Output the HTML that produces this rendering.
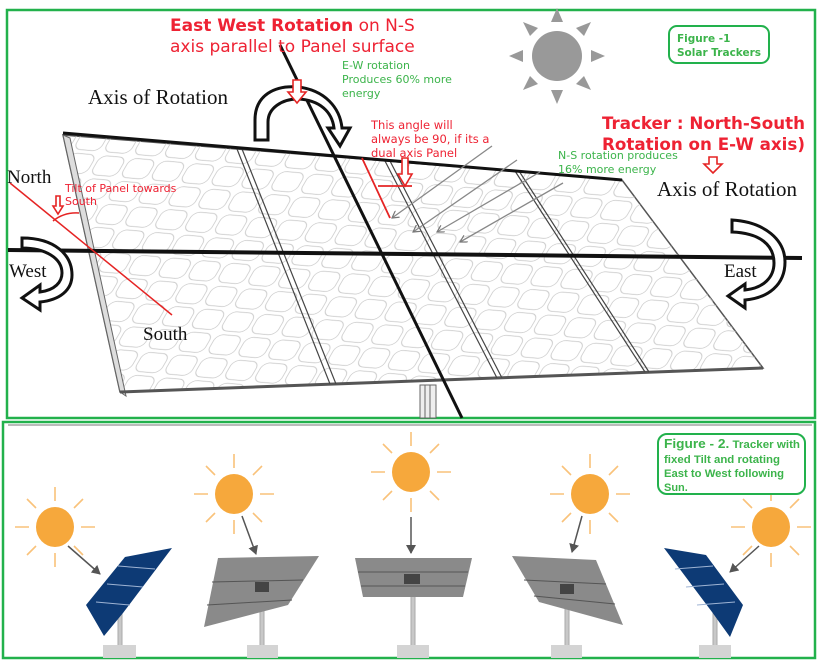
<!DOCTYPE html>
<html><head><meta charset="utf-8"><style>
html,body{margin:0;padding:0;background:#fff}
svg{display:block}
.g{font-family:"DejaVu Sans","Liberation Sans",sans-serif;fill:#3cb44b}
.r{font-family:"DejaVu Sans","Liberation Sans",sans-serif;fill:#ee2233}
.s{font-family:"Liberation Serif",serif;fill:#111}
.n{font-family:"Liberation Sans",sans-serif;fill:#3cb44b;font-weight:bold}
</style></head><body>
<svg width="818" height="660" viewBox="0 0 818 660" xmlns="http://www.w3.org/2000/svg">
<defs>
<pattern id="cells" width="30" height="24" patternUnits="userSpaceOnUse" patternTransform="rotate(5) skewX(-25)">
<rect x="2" y="2" width="26" height="20" rx="7" fill="none" stroke="#c8c8c8" stroke-width="0.8"/>
</pattern>
<marker id="ah" markerWidth="8" markerHeight="8" refX="7" refY="4" orient="auto" markerUnits="userSpaceOnUse"><path d="M0,0 L7,4 L0,8" fill="none" stroke="#777" stroke-width="1.2"/></marker>
<marker id="ah2" markerWidth="10" markerHeight="10" refX="8" refY="5" orient="auto" markerUnits="userSpaceOnUse"><path d="M0,0 L9,5 L0,10 Z" fill="#555"/></marker>
</defs>
<rect width="818" height="660" fill="#fff"/>
<rect x="7" y="10" width="808" height="408" fill="none" stroke="#22b14c" stroke-width="2.5"/>
<rect x="3" y="422" width="812" height="236" fill="none" stroke="#22b14c" stroke-width="2.5"/>

<polygon points="63,135 622,180 763,368 120,392" fill="#fff" stroke="#555" stroke-width="1.5"/>
<polygon points="63,135 622,180 763,368 120,392" fill="url(#cells)"/>
<polygon points="63,135 70,138 126,396 120,392" fill="#ddd" stroke="#666"/>
<line x1="120" y1="392" x2="763" y2="368" stroke="#555" stroke-width="3"/>
<g stroke="#444" stroke-width="1.2">
<line x1="237" y1="149" x2="330" y2="384"/><line x1="242" y1="149" x2="336" y2="384"/>
<line x1="385" y1="161" x2="497" y2="378"/><line x1="390" y1="161" x2="502" y2="378"/>
<line x1="515" y1="171" x2="645" y2="372"/><line x1="519" y1="171" x2="649" y2="372"/>
</g>
<line x1="63" y1="133" x2="622" y2="180" stroke="#111" stroke-width="3"/>
<rect x="420" y="385" width="16" height="33" fill="#eee" stroke="#666"/>
<line x1="425" y1="385" x2="425" y2="418" stroke="#666"/><line x1="430" y1="385" x2="430" y2="418" stroke="#666"/>
<line x1="8" y1="250" x2="802" y2="258" stroke="#111" stroke-width="4"/>
<line x1="280" y1="45" x2="462" y2="418" stroke="#111" stroke-width="3"/>

<g fill="#999">
<circle cx="557" cy="56" r="25"/>
<polygon points="557,8 551,22 563,22"/><polygon points="557,104 551,90 563,90"/>
<polygon points="509,56 523,50 523,62"/><polygon points="605,56 591,50 591,62"/>
<polygon points="523,22 530,36 538,28"/><polygon points="591,22 584,36 576,28"/>
<polygon points="523,90 530,76 538,84"/><polygon points="591,90 584,76 576,84"/>
</g>
<g stroke="#888" stroke-width="1.3" marker-end="url(#ah)">
<line x1="492" y1="146" x2="392" y2="218"/>
<line x1="517" y1="160" x2="413" y2="232"/>
<line x1="540" y1="172" x2="437" y2="232"/>
<line x1="563" y1="183" x2="460" y2="242"/>
</g>

<path d="M255,140 L255,120 C255,95 275,85 298,87 C325,90 340,108 342,128 L350,128 L340,146 L328,128 L334,128 C332,112 320,100 298,99 C282,99 268,108 268,122 L268,140 Z" fill="#fff" stroke="#111" stroke-width="3"/>
<path d="M22,238 C55,238 72,255 72,275 C72,290 60,300 40,302 L40,310 L22,298 L40,285 L40,292 C55,290 62,282 62,273 C62,258 45,248 22,248 Z" fill="#fff" stroke="#111" stroke-width="3"/>
<path d="M732,220 C765,222 785,240 785,262 C785,285 768,298 745,300 L745,308 L728,296 L745,284 L745,290 C764,288 774,277 774,263 C774,245 760,233 732,232 Z" fill="#fff" stroke="#111" stroke-width="3"/>

<line x1="10" y1="183" x2="172" y2="315" stroke="#e52424" stroke-width="1.5"/>
<path d="M53,221 Q64,212 79,213" fill="none" stroke="#e52424" stroke-width="1.5"/>
<line x1="362" y1="158" x2="390" y2="218" stroke="#e52424" stroke-width="1.8"/>
<line x1="378" y1="186" x2="412" y2="186" stroke="#e52424" stroke-width="1.8"/>
<g fill="#fff" stroke="#e52424" stroke-width="1.6">
<path d="M293,80 L301,80 L301,92 L306,92 L297,103 L288,92 L293,92 Z"/>
<path d="M402,158 L408,158 L408,174 L412,174 L405,186 L398,174 L402,174 Z"/>
<path d="M709,157 L717,157 L717,164 L722,164 L713,173 L704,164 L709,164 Z"/>
<path d="M56,196 L60,196 L60,206 L63,206 L58,214 L53,206 L56,206 Z"/>
</g>

<text x="170" y="31" class="r" font-size="17"><tspan font-weight="bold">East West Rotation</tspan> on N-S</text>
<text x="170" y="52" class="r" font-size="17">axis parallel to Panel surface</text>
<text x="342" y="69" class="g" font-size="11">E-W rotation</text>
<text x="342" y="83" class="g" font-size="11">Produces 60% more</text>
<text x="342" y="97" class="g" font-size="11">energy</text>
<text x="88" y="104" class="s" font-size="21">Axis of Rotation</text>
<text x="371" y="129" class="r" font-size="11.5">This angle will</text>
<text x="371" y="143" class="r" font-size="11.5">always be 90, if its a</text>
<text x="371" y="157" class="r" font-size="11.5">dual axis Panel</text>
<rect x="669" y="26" width="100" height="37" rx="8" fill="#fff" stroke="#22b14c" stroke-width="2"/>
<text x="677" y="42" class="g" font-size="10.5" font-weight="bold">Figure -1</text>
<text x="677" y="56" class="g" font-size="10.5" font-weight="bold">Solar Trackers</text>
<text x="602" y="129" class="r" font-size="16.5" font-weight="bold" textLength="203" lengthAdjust="spacingAndGlyphs">Tracker : North-South</text>
<text x="602" y="150" class="r" font-size="16.5" font-weight="bold" textLength="203" lengthAdjust="spacingAndGlyphs">Rotation on E-W axis)</text>
<text x="558" y="159" class="g" font-size="11">N-S rotation produces</text>
<text x="558" y="173" class="g" font-size="11">16% more energy</text>
<text x="657" y="196" class="s" font-size="21">Axis of Rotation</text>
<text x="7" y="183" class="s" font-size="19">North</text>
<text x="65" y="192" class="r" font-size="11">Tilt of Panel towards</text>
<text x="65" y="205" class="r" font-size="11">South</text>
<text x="9" y="277" class="s" font-size="19">West</text>
<text x="724" y="277" class="s" font-size="19">East</text>
<text x="143" y="340" class="s" font-size="19">South</text>

<line x1="8" y1="425" x2="812" y2="425" stroke="#777" stroke-width="1"/>
<g fill="#f6a83c" stroke="#f9c27a" stroke-width="1.6">
<g><ellipse cx="55" cy="527" rx="19" ry="20" stroke="none"/>
<path d="M55,487v14M55,553v14M15,527h14M81,527h14M27,499l9,9M83,499l-9,9M27,555l9,-9M83,555l-9,-9"/></g>
<g><ellipse cx="234" cy="494" rx="19" ry="20" stroke="none"/>
<path d="M234,454v14M234,520v14M194,494h14M260,494h14M206,466l9,9M262,466l-9,9M206,522l9,-9M262,522l-9,-9"/></g>
<g><ellipse cx="411" cy="472" rx="19" ry="20" stroke="none"/>
<path d="M411,432v14M411,498v14M371,472h14M437,472h14M383,444l9,9M439,444l-9,9M383,500l9,-9M439,500l-9,-9"/></g>
<g><ellipse cx="590" cy="494" rx="19" ry="20" stroke="none"/>
<path d="M590,454v14M590,520v14M550,494h14M616,494h14M562,466l9,9M618,466l-9,9M562,522l9,-9M618,522l-9,-9"/></g>
<g><ellipse cx="771" cy="527" rx="19" ry="20" stroke="none"/>
<path d="M771,487v14M771,553v14M731,527h14M797,527h14M743,499l9,9M799,499l-9,9M743,555l9,-9M799,555l-9,-9"/></g>
</g>
<g stroke="#555" stroke-width="1.5" marker-end="url(#ah2)">
<line x1="68" y1="546" x2="100" y2="574"/>
<line x1="242" y1="516" x2="256" y2="554"/>
<line x1="411" y1="517" x2="411" y2="553"/>
<line x1="582" y1="516" x2="572" y2="552"/>
<line x1="759" y1="546" x2="730" y2="572"/>
</g>
<g fill="#c8c8c8" stroke="#aaa">
<rect x="118" y="605" width="4" height="42"/><rect x="260" y="600" width="4" height="47"/><rect x="411" y="595" width="4" height="52"/><rect x="565" y="600" width="4" height="47"/><rect x="713" y="605" width="4" height="42"/>
</g>
<g fill="#d4d4d4">
<rect x="103" y="645" width="33" height="13"/><rect x="247" y="645" width="31" height="13"/><rect x="397" y="645" width="32" height="13"/><rect x="551" y="645" width="31" height="13"/><rect x="699" y="645" width="32" height="13"/>
</g>
<polygon points="125,557 172,548 123,613 104,636 86,605" fill="#0d3a75"/>
<g stroke="#9fb4d4" stroke-width="1"><line x1="118" y1="566" x2="155" y2="569"/><line x1="107" y1="584" x2="143" y2="587"/><line x1="96" y1="602" x2="130" y2="605"/></g>
<polygon points="664,548 706,555 743,605 730,637 712,612" fill="#0d3a75"/>
<g stroke="#9fb4d4" stroke-width="1"><line x1="675" y1="569" x2="713" y2="566"/><line x1="686" y1="587" x2="724" y2="584"/><line x1="697" y1="605" x2="735" y2="602"/></g>
<polygon points="218,558 319,556 288,605 204,627" fill="#8a8a8a"/>
<polygon points="355,558 472,558 463,597 363,597" fill="#8a8a8a"/>
<polygon points="512,556 596,560 623,625 539,602" fill="#8a8a8a"/>
<g stroke="#555" stroke-width="1">
<line x1="212" y1="582" x2="303" y2="580"/><line x1="207" y1="605" x2="292" y2="600"/>
<line x1="358" y1="572" x2="468" y2="572"/><line x1="361" y1="586" x2="465" y2="586"/>
<line x1="524" y1="580" x2="606" y2="584"/><line x1="534" y1="596" x2="615" y2="604"/>
</g>
<rect x="255" y="582" width="14" height="10" fill="#444"/>
<rect x="404" y="574" width="16" height="10" fill="#444"/>
<rect x="560" y="584" width="14" height="10" fill="#444"/>
<rect x="658" y="434" width="147" height="60" rx="9" fill="#fff" stroke="#22b14c" stroke-width="2"/>
<text x="664" y="448" class="n" font-size="11" textLength="136" lengthAdjust="spacingAndGlyphs"><tspan font-size="13">Figure - 2.</tspan> Tracker with</text>
<text x="664" y="463" class="n" font-size="11" textLength="116" lengthAdjust="spacingAndGlyphs">fixed Tilt and rotating</text>
<text x="664" y="477" class="n" font-size="11" textLength="120" lengthAdjust="spacingAndGlyphs">East to West following</text>
<text x="664" y="491" class="n" font-size="11">Sun.</text>
</svg>
</body></html>
